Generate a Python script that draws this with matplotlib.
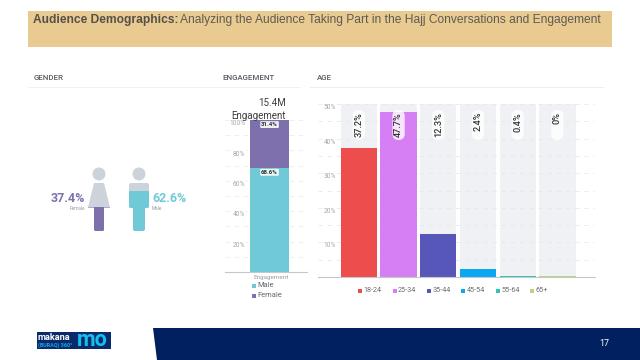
import matplotlib
matplotlib.use('Agg')
import matplotlib.pyplot as plt
from matplotlib.patches import Rectangle, Circle, Polygon, FancyBboxPatch

plt.rcParams['font.family'] = ['Roboto', 'DejaVu Sans']

# data
gender_labels = ['Female', 'Male']
gender_values = [37.4, 62.6]
gender_colors = ['#7d70ad', '#70c9d6']

engagement_labels = ['Male', 'Female']
engagement_values = [68.6, 31.4]
engagement_total = '15.4M'
engagement_ticks = [20, 40, 60, 80, 100]

age_labels = ['18-24', '25-34', '35-44', '45-54', '55-64', '65+']
age_values = [37.2, 47.7, 12.3, 2.4, 0.4, 0.0]
age_bar_heights = [37.2, 47.7, 12.3, 2.4, 0.4, 0.3]
age_colors = ['#ee4d4d', '#d67ff5', '#5757ba', '#0aa8f0', '#2cc4b4', '#bcd37a']
age_ticks = [10, 20, 30, 40, 50]

W, H = 640, 360
fig = plt.figure(figsize=(6.4, 3.6), dpi=100, facecolor='white')


def px_axes(x0, y0, x1, y1, **kw):
    return fig.add_axes([x0 / W, 1 - y1 / H, (x1 - x0) / W, (y1 - y0) / H], **kw)


def style_axes(ax):
    for name, sp in ax.spines.items():
        sp.set_visible(name == 'bottom')
    ax.spines['bottom'].set_color('#c4c8cc')
    ax.spines['bottom'].set_linewidth(0.8)
    ax.set_xticks([])
    ax.tick_params(axis='y', length=0, pad=0)
    ax.patch.set_alpha(0)


# engagement stacked bar
ax_e = px_axes(225, 120, 307, 272)
style_axes(ax_e)
ax_e.set_xlim(-1.14, 0.96)
ax_e.set_ylim(0, 100)
ax_e.set_yticks(range(10, 101, 10))
ax_e.set_yticklabels([])
ax_e.grid(axis='y', color='#e9ebee', lw=0.6, ls=(0, (5, 6)))
ax_e.set_axisbelow(True)
bottom = 0
for name, val, col in zip(engagement_labels, engagement_values, gender_colors[::-1]):
    ax_e.bar(0, val, 1.0, bottom=bottom, color=col)
    ax_e.text(0, bottom + val - 3, f'{val}%', ha='center', va='center', fontsize=4.4,
              fontweight='bold', color='#333333',
              bbox=dict(boxstyle='round,pad=0.15', fc='white', ec='none', alpha=0.9))
    bottom += val
for t in engagement_ticks:
    ax_e.text(-0.62, t - 2.5, f'{t}%', ha='right', va='center', fontsize=4.8, color='#a4a8ad',
              bbox=dict(boxstyle='square,pad=0.1', fc='white', ec='none'))

# age bars
ax_a = px_axes(318, 104, 595, 277)
style_axes(ax_a)
ax_a.set_xlim(-1.029, 5.948)
ax_a.set_ylim(0, 50)
ax_a.set_yticks(range(5, 51, 5))
ax_a.set_yticklabels([])
ax_a.grid(axis='y', color='#e6e8eb', lw=0.6, ls=(0, (5, 6)))
ax_a.set_axisbelow(True)
xs = list(range(len(age_labels)))
ax_a.bar(xs, [50] * len(xs), 0.914, color='#f0f1f4', zorder=0.3)
ax_a.bar(xs, age_bar_heights, 0.914, color=age_colors, zorder=2)
for x, val in zip(xs, age_values):
    label = f'{val:g}%'
    pill = FancyBboxPatch((x - 0.155, 39.6), 0.31, 8.7, boxstyle='round,pad=0,rounding_size=0.155',
                          mutation_aspect=11.47, fc='white', ec='none', alpha=0.8, zorder=3)
    ax_a.add_patch(pill)
    ax_a.text(x, 47.7, label, rotation=90, ha='center', va='top', fontsize=6.6,
              fontweight='medium', color='#333333', zorder=4)
for t in age_ticks:
    ax_a.text(-0.58, t - 1.0, f'{t}%', ha='right', va='center', fontsize=4.8, color='#a4a8ad',
              bbox=dict(boxstyle='square,pad=0.1', fc='white', ec='none'))

# page furniture on a pixel overlay
ov = px_axes(0, 0, W, H, zorder=10)
ov.set_xlim(0, W)
ov.set_ylim(H, 0)
ov.axis('off')
ov.patch.set_alpha(0)

ov.add_patch(Rectangle((28, 11), 584, 36, fc='#e9cb92', ec='none'))
title = ov.text(33, 19.5, 'Audience Demographics:', family='Liberation Sans', fontsize=8.65,
                fontweight='bold', color='#55504a', va='center')
fig.canvas.draw()
bb = title.get_window_extent()
ov.text(bb.x1 + 2, 19.5, 'Analyzing the Audience Taking Part in the Hajj Conversations and Engagement',
        family='Liberation Sans', fontsize=8.65, color='#5f5a54', va='center')

for x, s in [(34, 'GENDER'), (222, 'ENGAGEMENT'), (317, 'AGE')]:
    ov.text(x, 78, s, fontsize=5.7, fontweight='medium', color='#565b60', va='center')
ov.plot([28, 300], [87, 87], color='#f0f1f3', lw=0.7)
ov.plot([310, 603], [87, 87], color='#eceef0', lw=0.7)

# gender pictograms, filled up to the share of the figure's height
fig_top, fig_bottom = 167.5, 231


def person(cx, female):
    parts = [Circle((cx, 174), 6.5)]
    if female:
        parts.append(Polygon([(cx - 5, 183), (cx + 5, 183), (cx + 11, 207.5), (cx - 11, 207.5)]))
        parts.append(FancyBboxPatch((cx - 5, 205), 10, 26, boxstyle='round,pad=0,rounding_size=1.5'))
    else:
        parts.append(FancyBboxPatch((cx - 10, 183), 20, 25, boxstyle='round,pad=0,rounding_size=2'))
        parts.append(FancyBboxPatch((cx - 6, 200), 12, 31, boxstyle='round,pad=0,rounding_size=2'))
    return parts


for cx, female, val, col in [(99, True, gender_values[0], gender_colors[0]),
                             (139, False, gender_values[1], gender_colors[1])]:
    for p in person(cx, female):
        p.set(fc='#ccd3da', ec='none')
        ov.add_patch(p)
    fill_y = fig_bottom - (fig_bottom - fig_top) * val / 100
    clip = Rectangle((cx - 15, fill_y), 30, fig_bottom - fill_y, transform=ov.transData)
    for p in person(cx, female):
        p.set(fc=col, ec='none')
        ov.add_patch(p)
        p.set_clip_path(clip)

ov.text(85, 198, f'{gender_values[0]}%', ha='right', va='center', fontsize=9.0,
        fontweight='bold', color=gender_colors[0])
ov.text(152, 198, f'{gender_values[1]}%', ha='left', va='center', fontsize=9.0,
        fontweight='bold', color=gender_colors[1])
ov.text(85, 209, gender_labels[0], ha='right', va='center', fontsize=3.4, color='#9aa0a6')
ov.text(152, 209, gender_labels[1], ha='left', va='center', fontsize=3.4, color='#9aa0a6')

# engagement heading and legend
ov.text(272.5, 103, engagement_total, ha='center', va='center', fontsize=7.0, color='#3c3c3c')
ov.text(259, 116, 'Engagement', ha='center', va='center', fontsize=7.0, color='#3c3c3c')
ov.text(271, 277, 'Engagement', ha='center', va='center', fontsize=4.6, color='#9aa0a6')
for y, name, col in zip([285.5, 295.5], engagement_labels, gender_colors[::-1]):
    ov.add_patch(Rectangle((252, y - 2), 4, 4, fc=col, ec='none'))
    ov.text(257.5, y, name, va='center', fontsize=5.4, color='#62676c')

# age legend
for i, (name, col) in enumerate(zip(age_labels, age_colors)):
    x = 358.3 + i * 34.3
    ov.add_patch(Rectangle((x, 289), 4, 4, fc=col, ec='none'))
    ov.text(x + 5.5, 291, name, va='center', fontsize=5.2, color='#6b7075')

# footer
ov.add_patch(Polygon([(153, 328), (640, 328), (640, 360), (157, 360)], fc='#002060', ec='none'))
ov.text(604, 343, '17', ha='center', va='center', fontsize=6.5, color='white')
ov.add_patch(Rectangle((36.5, 332), 74, 17, fc='#0b2a6b', ec='none'))
ov.text(38, 337.5, 'makana', fontsize=6.6, fontweight='bold', color='white', va='center')
ov.text(38.5, 345, '(BURAQ) 360°', fontsize=3.9, fontweight='bold', color='#18a8e0', va='center')
ov.text(77, 339.5, 'mo', fontsize=15.5, fontweight='bold', color='#12c0ee', va='center')

fig.savefig('out.png', dpi=100)
